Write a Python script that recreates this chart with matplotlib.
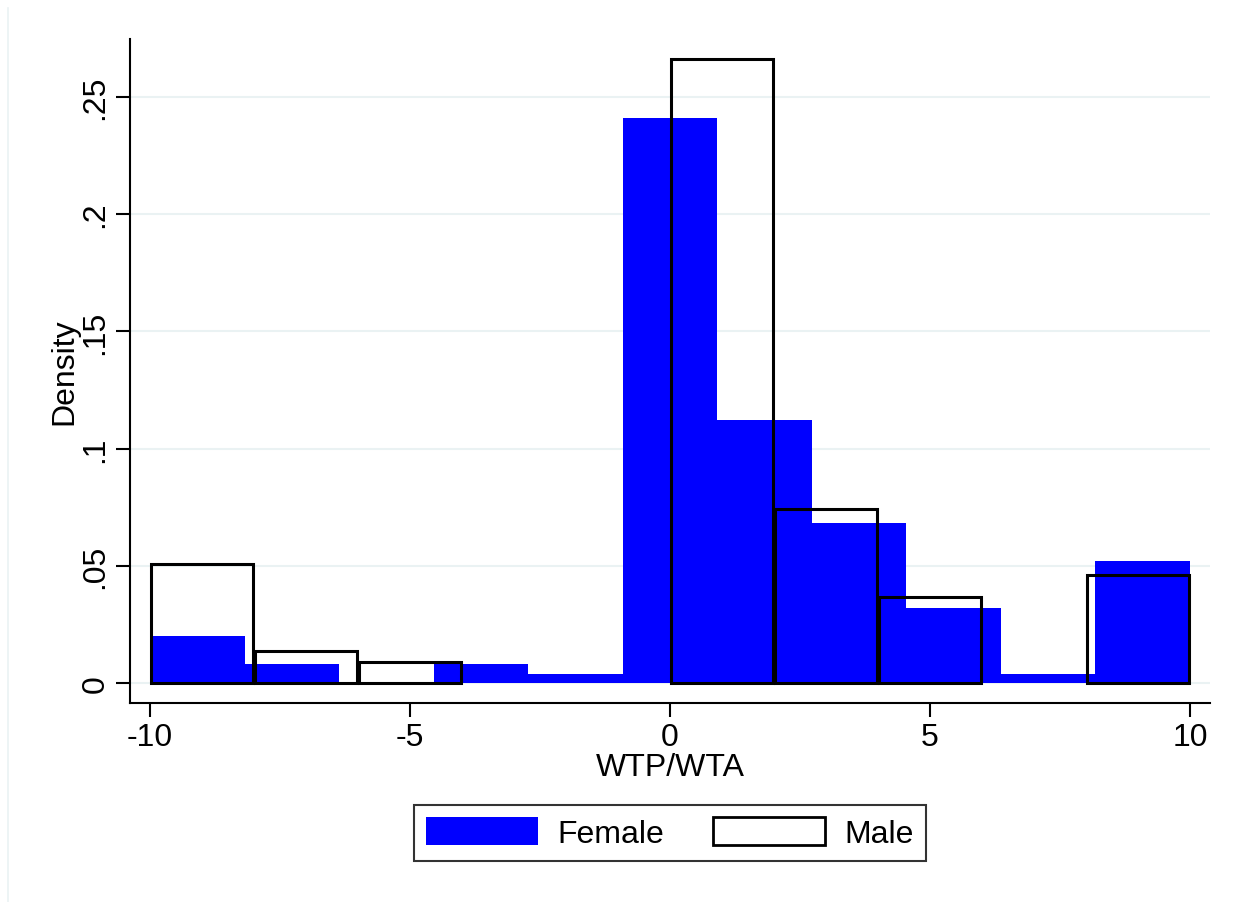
import numpy as np
import matplotlib.pyplot as plt
from matplotlib.patches import Patch
from matplotlib.lines import Line2D

plt.rcParams['font.family'] = ['Liberation Sans', 'DejaVu Sans']

# female histogram: 11 bins from -10 to 10
female_edges = np.linspace(-10, 10, 12)
female_density = [0.0200, 0.0081, 0.0, 0.0081, 0.0038, 0.2410,
                  0.1120, 0.0682, 0.0320, 0.0038, 0.0520]

# male histogram: 10 bins of width 2
male_edges = np.linspace(-10, 10, 11)
male_density = [0.0508, 0.0135, 0.0088, 0.0, 0.0, 0.2660,
                0.0742, 0.0368, 0.0, 0.0462]

y_ticks = [0, 0.05, 0.1, 0.15, 0.2, 0.25]
y_ticklabels = ['0', '.05', '.1', '.15', '.2', '.25']
x_ticks = [-10, -5, 0, 5, 10]

blue = '#0000FF'
grid_col = '#EAF2F3'
fs = 23

fig = plt.figure(figsize=(12.38, 9.03), dpi=100)
fig.patch.set_facecolor('white')
# faint left edge of the graph region
fig.lines.append(Line2D([8 / 1238, 8 / 1238], [0, 1 - 9 / 903],
                        transform=fig.transFigure, color=grid_col, lw=1.2))

ax = fig.add_axes([130 / 1238, 1 - 704 / 903, 1080 / 1238, 664 / 903])

fw = np.diff(female_edges)
ax.bar(female_edges[:-1], female_density, width=fw, align='edge',
       color=blue, edgecolor='none', zorder=2)

# outline bars, skip empty bins so no baseline stroke is drawn
md = np.array(male_density)
mw = np.diff(male_edges)
mc = male_edges[:-1] + mw / 2
keep = md > 0
ax.bar(mc[keep], md[keep], width=mw[keep] * 0.985,
       align='center', fill=False, edgecolor='black', lw=2.2, zorder=3)

ax.set_xlim(-10.385, 10.385)
ax.set_ylim(-0.0085, 0.2747)
ax.set_yticks(y_ticks)
ax.set_yticklabels(y_ticklabels, rotation=90, va='center')
ax.set_xticks(x_ticks)
ax.set_xticklabels([str(t) for t in x_ticks])
ax.tick_params(labelsize=fs, length=10, width=1.5, colors='black', pad=4)
ax.yaxis.grid(True, color=grid_col, lw=1.5, zorder=0)
ax.set_axisbelow(True)

for s in ['top', 'right']:
    ax.spines[s].set_visible(False)
for s in ['left', 'bottom']:
    ax.spines[s].set_linewidth(1.5)

ax.set_xlabel('WTP/WTA', fontsize=fs, labelpad=0)
ax.set_ylabel('Density', fontsize=fs, labelpad=1)

handles = [Patch(facecolor=blue, edgecolor='none', label='Female'),
           Patch(facecolor='white', edgecolor='black', lw=2, label='Male')]
leg = fig.legend(handles=handles, loc='center',
                 bbox_to_anchor=(670 / 1238, 1 - 834 / 903),
                 ncol=2, fontsize=fs, frameon=True, fancybox=False,
                 edgecolor='black', handlelength=3.5, handleheight=1.0,
                 columnspacing=1.55, handletextpad=0.6, borderpad=0.38,
                 borderaxespad=0)
leg.get_frame().set_linewidth(1.5)

fig.savefig('out.png', dpi=100, facecolor='white')
